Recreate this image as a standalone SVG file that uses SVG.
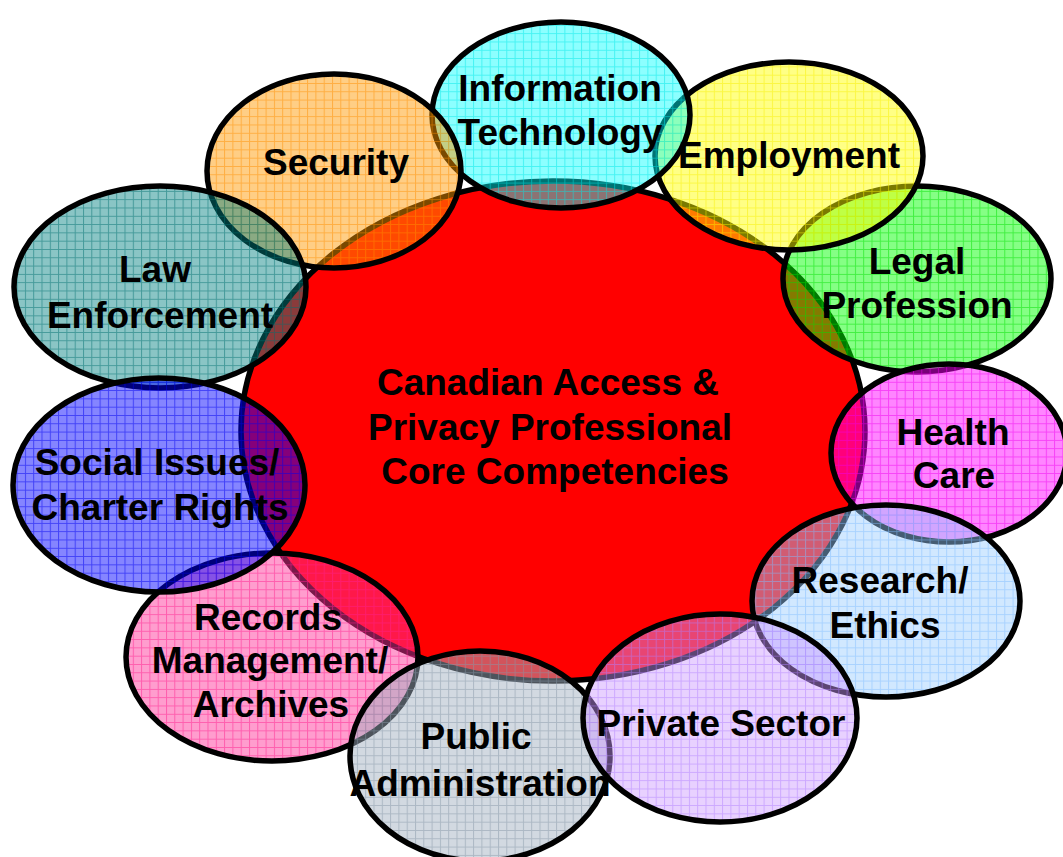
<svg xmlns="http://www.w3.org/2000/svg" width="1063" height="857" viewBox="0 0 1063 857">
  <style>
    .ring { stroke: #000; stroke-width: 5.5; }
    .lbl { font-family: "Liberation Sans", Arial, sans-serif; font-weight: bold; font-size: 37px; fill: #000; text-anchor: middle; }
    .grid { stroke-width: 1; stroke-opacity: 0.5; }
  </style>
  <defs>
    <!-- translucent grid fills, one per topic colour -->
    <pattern id="g-cyan" width="8.3" height="8.3" patternUnits="userSpaceOnUse">
      <rect width="8.3" height="8.3" fill="#00ffff" fill-opacity="0.45"/>
      <path class="grid" d="M0 0.5H8.3M0.5 0V8.3" stroke="#00e8e8"/>
    </pattern>
    <pattern id="g-orange" width="8.3" height="8.3" patternUnits="userSpaceOnUse">
      <rect width="8.3" height="8.3" fill="#ff9900" fill-opacity="0.48"/>
      <path class="grid" d="M0 0.5H8.3M0.5 0V8.3" stroke="#ff9000"/>
    </pattern>
    <pattern id="g-yellow" width="8.3" height="8.3" patternUnits="userSpaceOnUse">
      <rect width="8.3" height="8.3" fill="#ffff00" fill-opacity="0.48"/>
      <path class="grid" d="M0 0.5H8.3M0.5 0V8.3" stroke="#f8f000"/>
    </pattern>
    <pattern id="g-green" width="8.3" height="8.3" patternUnits="userSpaceOnUse">
      <rect width="8.3" height="8.3" fill="#00ff00" fill-opacity="0.48"/>
      <path class="grid" d="M0 0.5H8.3M0.5 0V8.3" stroke="#00e000"/>
    </pattern>
    <pattern id="g-magenta" width="8.3" height="8.3" patternUnits="userSpaceOnUse">
      <rect width="8.3" height="8.3" fill="#ff00ff" fill-opacity="0.48"/>
      <path class="grid" d="M0 0.5H8.3M0.5 0V8.3" stroke="#f000f0"/>
    </pattern>
    <pattern id="g-sky" width="8.3" height="8.3" patternUnits="userSpaceOnUse">
      <rect width="8.3" height="8.3" fill="#99ccff" fill-opacity="0.45"/>
      <path class="grid" d="M0 0.5H8.3M0.5 0V8.3" stroke="#80bbff"/>
    </pattern>
    <pattern id="g-lilac" width="8.3" height="8.3" patternUnits="userSpaceOnUse">
      <rect width="8.3" height="8.3" fill="#cc99ff" fill-opacity="0.45"/>
      <path class="grid" d="M0 0.5H8.3M0.5 0V8.3" stroke="#b080ff"/>
    </pattern>
    <pattern id="g-slate" width="8.3" height="8.3" patternUnits="userSpaceOnUse">
      <rect width="8.3" height="8.3" fill="#a0b0c0" fill-opacity="0.48"/>
      <path class="grid" d="M0 0.5H8.3M0.5 0V8.3" stroke="#8898a8"/>
    </pattern>
    <pattern id="g-pink" width="8.3" height="8.3" patternUnits="userSpaceOnUse">
      <rect width="8.3" height="8.3" fill="#ff3399" fill-opacity="0.48"/>
      <path class="grid" d="M0 0.5H8.3M0.5 0V8.3" stroke="#ff2090"/>
    </pattern>
    <pattern id="g-blue" width="8.3" height="8.3" patternUnits="userSpaceOnUse">
      <rect width="8.3" height="8.3" fill="#0000ff" fill-opacity="0.48"/>
      <path class="grid" d="M0 0.5H8.3M0.5 0V8.3" stroke="#0000f0"/>
    </pattern>
    <pattern id="g-teal" width="8.3" height="8.3" patternUnits="userSpaceOnUse">
      <rect width="8.3" height="8.3" fill="#008080" fill-opacity="0.46"/>
      <path class="grid" d="M0 0.5H8.3M0.5 0V8.3" stroke="#007070"/>
    </pattern>
  </defs>

  <rect width="1063" height="857" fill="#fff"/>

  <!-- core circle -->
  <g id="core">
    <ellipse class="ring" cx="553" cy="431" rx="312" ry="250" fill="#ff0000"/>
    <text class="lbl" x="548" y="395">Canadian Access &amp;</text>
    <text class="lbl" x="550" y="440">Privacy Professional</text>
    <text class="lbl" x="555" y="484">Core Competencies</text>
  </g>

  <!-- no connectors in this diagram -->
  <g id="connectors"/>

  <!-- surrounding topic ellipses, painted back to front -->
  <g id="legal">
    <ellipse class="ring" cx="917" cy="279" rx="134" ry="93" fill="url(#g-green)"/>
    <text class="lbl" x="917" y="274">Legal</text>
    <text class="lbl" x="917" y="318">Profession</text>
  </g>
  <g id="employment">
    <ellipse class="ring" cx="789" cy="156" rx="134" ry="94" fill="url(#g-yellow)"/>
    <text class="lbl" x="789" y="168">Employment</text>
  </g>
  <g id="info-tech">
    <ellipse class="ring" cx="561" cy="115" rx="129" ry="93" fill="url(#g-cyan)"/>
    <text class="lbl" x="560" y="101">Information</text>
    <text class="lbl" x="560" y="145">Technology</text>
  </g>
  <g id="security">
    <ellipse class="ring" cx="334" cy="171" rx="127" ry="97" fill="url(#g-orange)"/>
    <text class="lbl" x="336" y="175">Security</text>
  </g>
  <g id="law">
    <ellipse class="ring" cx="160" cy="287" rx="146" ry="101" fill="url(#g-teal)"/>
    <text class="lbl" x="155" y="282">Law</text>
    <text class="lbl" x="160" y="328">Enforcement</text>
  </g>
  <g id="records">
    <ellipse class="ring" cx="272" cy="657" rx="146" ry="104" fill="url(#g-pink)"/>
    <text class="lbl" x="268" y="630">Records</text>
    <text class="lbl" x="270" y="673">Management/</text>
    <text class="lbl" x="271" y="717">Archives</text>
  </g>
  <g id="social">
    <ellipse class="ring" cx="159" cy="485" rx="146" ry="107" fill="url(#g-blue)"/>
    <text class="lbl" x="157" y="475">Social Issues/</text>
    <text class="lbl" x="160" y="520">Charter Rights</text>
  </g>
  <g id="public">
    <ellipse class="ring" cx="480" cy="756" rx="130" ry="105" fill="url(#g-slate)"/>
    <text class="lbl" x="476" y="749">Public</text>
    <text class="lbl" x="480" y="796">Administration</text>
  </g>
  <g id="health">
    <ellipse class="ring" cx="949" cy="453" rx="118" ry="89" fill="url(#g-magenta)"/>
    <text class="lbl" x="953" y="445">Health</text>
    <text class="lbl" x="954" y="488">Care</text>
  </g>
  <g id="research">
    <ellipse class="ring" cx="886" cy="601" rx="134" ry="96" fill="url(#g-sky)"/>
    <text class="lbl" x="880" y="593">Research/</text>
    <text class="lbl" x="885" y="638">Ethics</text>
  </g>
  <g id="private">
    <ellipse class="ring" cx="720" cy="718" rx="137" ry="104" fill="url(#g-lilac)"/>
    <text class="lbl" x="721" y="736">Private Sector</text>
  </g>
</svg>
